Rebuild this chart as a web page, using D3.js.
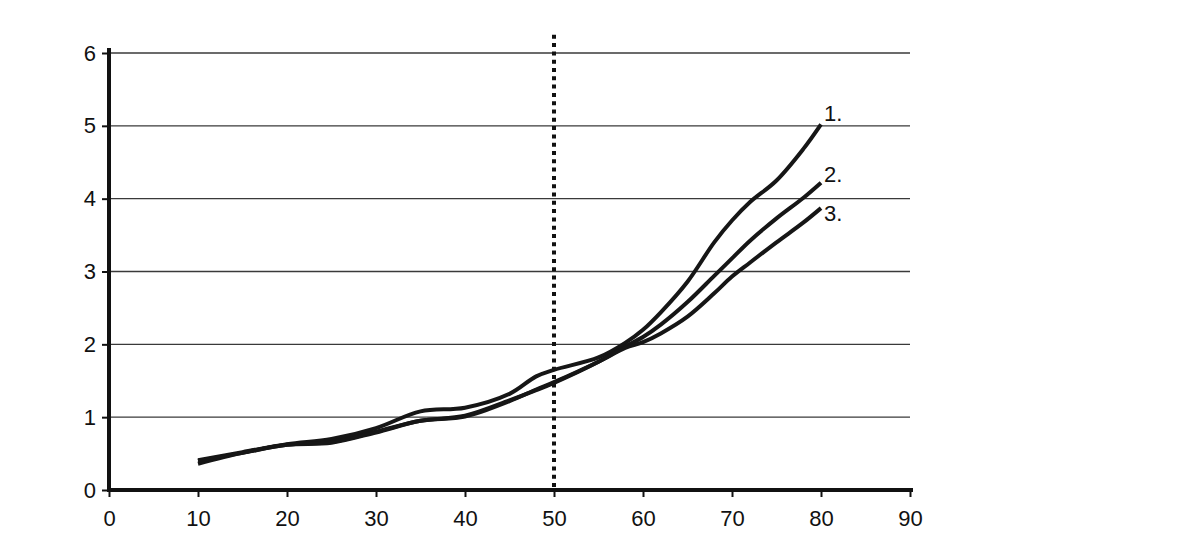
<!DOCTYPE html>
<html>
<head>
<meta charset="utf-8">
<script src="https://cdn.jsdelivr.net/npm/d3@7"></script>
<style>
  body { margin: 0; background: #fff; }
  svg { display: block; }
  text { font-family: "Liberation Sans", Arial, sans-serif; fill: #111; }
</style>
</head>
<body>
<svg id="chart"></svg>
<script>
// x positions shared by the three curves
const xValues = [10, 15, 20, 25, 30, 35, 40, 45, 48, 50, 55, 58, 60, 62, 65, 68, 70, 72, 75, 78, 80]

const series1 = [0.41, 0.52, 0.63, 0.70, 0.85, 1.08, 1.13, 1.32, 1.56, 1.65, 1.82, 2.02, 2.20, 2.44, 2.86, 3.40, 3.70, 3.95, 4.25, 4.68, 5.02]
const series2 = [0.36, 0.51, 0.62, 0.66, 0.80, 0.95, 1.02, 1.23, 1.37, 1.47, 1.76, 1.97, 2.10, 2.27, 2.58, 2.94, 3.18, 3.42, 3.73, 4.01, 4.22]
const series3 = [0.40, 0.51, 0.62, 0.65, 0.79, 0.95, 1.01, 1.22, 1.38, 1.48, 1.76, 1.95, 2.03, 2.15, 2.38, 2.70, 2.93, 3.12, 3.40, 3.67, 3.87]

const seriesLabels = ["1.", "2.", "3."]
const xTicks = [0, 10, 20, 30, 40, 50, 60, 70, 80, 90]
const yTicks = [0, 1, 2, 3, 4, 5, 6]
const markerX = 50

const w = 1199
const h = 538

const svg = d3.select("#chart")
    .attr("width", w)
    .attr("height", h)

//Scales
const xScale = d3.scaleLinear()
    .domain([0, 90])
    .range([109, 910])

const yScale = d3.scaleLinear()
    .domain([0, 6])
    .range([490, 53])

//Gridlines
svg.append("g")
    .selectAll("line")
    .data(yTicks.filter(d => d > 0))
    .enter()
    .append("line")
    .attr("x1", xScale(0))
    .attr("x2", xScale(90))
    .attr("y1", d => yScale(d))
    .attr("y2", d => yScale(d))
    .attr("stroke", "#3a3a3a")
    .attr("stroke-width", 1.3)

//Axes
const axisLeft = d3.axisLeft(yScale)
    .tickValues(yTicks)
    .tickFormat(d3.format("d"))
    .tickSize(7)
    .tickSizeOuter(0)
    .tickPadding(6)

const axisBottom = d3.axisBottom(xScale)
    .tickValues(xTicks)
    .tickFormat(d3.format("d"))
    .tickSize(7)
    .tickSizeOuter(0)
    .tickPadding(13)

const gy = svg.append("g")
    .attr("transform", `translate(${xScale(0)}, 0)`)
    .call(axisLeft)

const gx = svg.append("g")
    .attr("transform", `translate(0, ${yScale(0)})`)
    .call(axisBottom)

gx.select(".domain").remove()
gy.select(".domain").remove()

gx.attr("font-size", 22).attr("font-family", "'Liberation Sans', Arial, sans-serif")
gy.attr("font-size", 22).attr("font-family", "'Liberation Sans', Arial, sans-serif")

svg.selectAll(".tick line")
    .attr("stroke", "#111")
    .attr("stroke-width", 2)

svg.selectAll(".tick text")
    .attr("fill", "#111")

// thick axis lines
svg.append("line")
    .attr("x1", xScale(0))
    .attr("x2", xScale(0))
    .attr("y1", yScale(6) - 5)
    .attr("y2", yScale(0) + 2)
    .attr("stroke", "#111")
    .attr("stroke-width", 4)

svg.append("line")
    .attr("x1", xScale(0) - 2)
    .attr("x2", xScale(90) + 3)
    .attr("y1", yScale(0))
    .attr("y2", yScale(0))
    .attr("stroke", "#111")
    .attr("stroke-width", 4)

//Dotted marker at x = 50
svg.append("line")
    .attr("x1", xScale(markerX))
    .attr("x2", xScale(markerX))
    .attr("y1", yScale(6.25))
    .attr("y2", yScale(0))
    .attr("stroke", "#111")
    .attr("stroke-width", 4)
    .attr("stroke-dasharray", "4,4.3")

//Curves
const allSeries = [series1, series2, series3]
const labelOffsets = [-3, -1, 13]

const line = d3.line()
    .x((d, i) => xScale(xValues[i]))
    .y(d => yScale(d))
    .curve(d3.curveCatmullRom.alpha(0.5))

svg.append("g")
    .selectAll("path")
    .data(allSeries)
    .enter()
    .append("path")
    .attr("d", d => line(d))
    .attr("fill", "none")
    .attr("stroke", "#161616")
    .attr("stroke-width", 4)
    .attr("stroke-linecap", "butt")

svg.append("g")
    .selectAll("text")
    .data(allSeries)
    .enter()
    .append("text")
    .attr("x", xScale(xValues[xValues.length - 1]) + 3)
    .attr("y", (d, i) => yScale(d[d.length - 1]) + labelOffsets[i])
    .attr("font-size", 22)
    .text((d, i) => seriesLabels[i])
</script>
</body>
</html>
